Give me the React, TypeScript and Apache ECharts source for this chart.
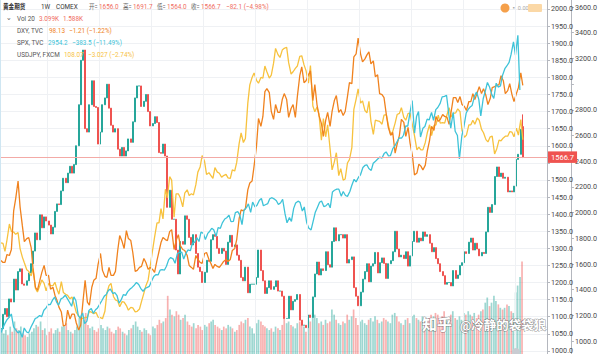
import React, { useEffect, useRef } from "react";
import * as echarts from "echarts";

// Semi-monthly samples, Feb 2010 .. Feb 2020 (242 points)
const START_YEAR = 2010;
const START_MONTH = 2;
const HALF_DAYS = ["08", "22"];

const goldClose = [
  // 2010 (Feb-Dec)
  1065, 1107, 1124, 1100, 1152, 1143, 1210, 1178, 1232, 1240, 1196, 1192, 1205, 1228, 1255, 1292, 1345, 1325, 1398, 1360, 1392, 1380,
  // 2011
  1368, 1342, 1362, 1408, 1430, 1428, 1468, 1505, 1492, 1520, 1540, 1520, 1545, 1600, 1720, 1850, 1880, 1650, 1640, 1720, 1790, 1715, 1712, 1605,
  // 2012
  1640, 1720, 1740, 1780, 1710, 1660, 1640, 1650, 1590, 1570, 1595, 1570, 1585, 1620, 1610, 1670, 1740, 1775, 1775, 1715, 1730, 1750, 1700, 1658,
  // 2013
  1665, 1685, 1668, 1580, 1578, 1605, 1570, 1420, 1470, 1385, 1385, 1295, 1225, 1320, 1312, 1395, 1385, 1332, 1310, 1340, 1285, 1245, 1232, 1200,
  // 2014
  1230, 1265, 1262, 1325, 1340, 1335, 1300, 1285, 1300, 1292, 1253, 1318, 1338, 1305, 1310, 1280, 1265, 1215, 1205, 1245, 1170, 1195, 1195, 1195,
  // 2015
  1215, 1295, 1235, 1205, 1168, 1185, 1205, 1180, 1188, 1205, 1175, 1175, 1160, 1095, 1095, 1160, 1120, 1145, 1150, 1165, 1090, 1075, 1075, 1068,
  // 2016
  1105, 1098, 1158, 1225, 1260, 1222, 1240, 1235, 1290, 1252, 1245, 1320, 1360, 1322, 1340, 1340, 1330, 1340, 1257, 1267, 1275, 1185, 1160, 1132,
  // 2017
  1172, 1210, 1232, 1255, 1202, 1248, 1255, 1288, 1228, 1258, 1272, 1256, 1212, 1255, 1264, 1290, 1350, 1298, 1275, 1280, 1270, 1290, 1248, 1278,
  // 2018
  1320, 1350, 1318, 1330, 1322, 1348, 1335, 1340, 1315, 1290, 1302, 1270, 1255, 1232, 1220, 1195, 1200, 1200, 1190, 1235, 1212, 1222, 1250, 1258,
  // 2019
  1290, 1285, 1318, 1330, 1295, 1315, 1298, 1278, 1288, 1285, 1348, 1420, 1405, 1428, 1510, 1538, 1510, 1520, 1505, 1508, 1465, 1468, 1465, 1482,
  // 2020 (Jan-Feb)
  1560, 1575, 1648, 1566.7,
];

// Header values of the last bar
const lastOpen = 1656.0;
const lastHigh = 1691.7;
const lastLow = 1564.0;
const lastClose = 1566.7;

const dxy = [
  80.5, 80.3, 80.3, 81.1, 81.0, 81.6, 85.5, 86.7, 88.5, 85.9, 84.0, 82.4, 82.7, 82.8, 81.8, 79.5, 77.8, 77.5, 78.5, 79.3, 80.0, 79.0,
  79.0, 77.6, 77.8, 77.0, 76.5, 75.8, 75.3, 73.9, 74.0, 75.5, 74.6, 75.1, 75.1, 74.2, 73.5, 74.0, 76.5, 78.5, 76.3, 76.0, 77.8, 78.5, 78.7, 80.1,
  81.2, 79.5, 78.9, 78.8, 79.8, 79.0, 79.0, 79.4, 81.5, 83.0, 82.4, 81.7, 83.5, 82.7, 82.5, 81.3, 79.4, 79.5, 79.8, 79.9, 80.7, 80.3, 79.6, 79.8,
  79.6, 79.3, 80.5, 81.4, 82.3, 82.8, 82.6, 82.5, 83.4, 83.6, 81.6, 82.5, 83.1, 82.0, 81.6, 81.5, 81.0, 80.0, 79.8, 79.6, 81.0, 80.6, 80.3, 80.2,
  81.2, 81.3, 80.6, 80.2, 79.7, 80.1, 79.9, 79.8, 80.1, 80.4, 80.6, 80.4, 80.6, 81.5, 81.7, 82.6, 84.7, 85.6, 85.5, 85.7, 87.6, 88.3, 88.5, 90.0,
  92.0, 94.8, 94.0, 95.0, 97.5, 97.8, 97.4, 95.5, 94.7, 96.2, 95.4, 95.4, 96.7, 97.3, 96.7, 94.9, 95.8, 96.2, 94.9, 97.0, 99.1, 100.0, 98.4, 98.6,
  99.2, 99.6, 96.6, 98.2, 96.2, 95.1, 94.3, 93.0, 94.6, 95.4, 94.0, 95.5, 96.6, 97.1, 95.4, 95.7, 95.1, 95.5, 97.0, 98.4, 98.3, 101.0, 101.3, 102.9,
  101.3, 100.5, 100.8, 101.2, 101.5, 100.3, 100.6, 99.0, 99.2, 97.3, 97.2, 96.9, 95.2, 93.9, 93.1, 93.4, 91.3, 92.2, 93.1, 94.7, 94.4, 93.0, 93.9, 92.3,
  91.0, 89.1, 89.3, 90.2, 90.0, 89.6, 90.1, 91.5, 92.6, 94.0, 93.6, 95.0, 94.5, 94.7, 95.2, 95.0, 94.9, 94.2, 95.6, 96.9, 96.9, 96.4, 97.0, 96.2,
  96.0, 95.6, 96.5, 96.5, 97.3, 96.7, 97.4, 98.0, 97.3, 97.8, 97.1, 96.2, 96.8, 97.9, 98.0, 98.1, 98.2, 99.1, 98.6, 97.3, 97.6, 98.3, 97.2, 96.5,
  97.3, 97.9, 99.4, 98.13,
];

const spx = [
  1066, 1105, 1138, 1166, 1187, 1211, 1110, 1090, 1064, 1076, 1030, 1102, 1071, 1064, 1110, 1140, 1176, 1183, 1199, 1190, 1240, 1257,
  1286, 1283, 1321, 1343, 1304, 1280, 1329, 1337, 1357, 1333, 1300, 1271, 1344, 1316, 1199, 1178, 1219, 1136, 1155, 1238, 1253, 1216, 1244, 1258,
  1290, 1316, 1350, 1362, 1395, 1404, 1370, 1378, 1353, 1295, 1325, 1362, 1356, 1385, 1405, 1418, 1437, 1456, 1440, 1411, 1388, 1409, 1418, 1426,
  1470, 1502, 1518, 1515, 1552, 1556, 1553, 1582, 1634, 1650, 1640, 1606, 1680, 1691, 1692, 1639, 1687, 1710, 1703, 1760, 1770, 1805, 1775, 1848,
  1838, 1790, 1838, 1855, 1878, 1866, 1815, 1883, 1878, 1920, 1950, 1960, 1980, 1930, 1932, 2000, 2007, 1982, 1906, 2018, 2039, 2068, 2002, 2082,
  2044, 2058, 2096, 2110, 2053, 2061, 2070, 2108, 2116, 2107, 2092, 2063, 2077, 2104, 1990, 1921, 1961, 1931, 2033, 2075, 2089, 2080, 2012, 2044,
  1922, 1880, 1865, 1930, 2000, 2036, 2080, 2091, 2047, 2052, 2072, 2037, 2161, 2174, 2183, 2183, 2128, 2164, 2133, 2126, 2164, 2213, 2259, 2239,
  2275, 2294, 2351, 2367, 2372, 2343, 2328, 2384, 2400, 2415, 2432, 2423, 2459, 2472, 2441, 2444, 2500, 2519, 2553, 2581, 2579, 2602, 2675, 2673,
  2786, 2872, 2619, 2747, 2786, 2588, 2656, 2670, 2727, 2721, 2780, 2718, 2801, 2818, 2850, 2901, 2904, 2913, 2767, 2658, 2781, 2633, 2600, 2417,
  2596, 2665, 2775, 2803, 2822, 2834, 2907, 2939, 2881, 2752, 2886, 2942, 3013, 2980, 2918, 2889, 3007, 2977, 2986, 3066, 3120, 3141, 3169, 3231,
  3329, 3226, 3380, 2954.2,
];

const usdjpy = [
  90.0, 89.9, 88.5, 90.5, 93.3, 92.0, 91.9, 91.5, 91.8, 89.0, 87.5, 86.5, 85.3, 85.0, 84.2, 85.5, 82.0, 81.4, 82.5, 83.5, 82.9, 81.6,
  82.9, 82.5, 82.5, 83.1, 81.9, 81.0, 83.2, 81.3, 81.0, 80.8, 80.2, 80.5, 79.1, 77.8, 77.2, 76.6, 76.8, 76.9, 77.0, 78.0, 77.8, 77.6, 77.8, 77.0,
  76.9, 76.7, 78.0, 81.2, 82.5, 82.9, 80.6, 80.0, 79.8, 78.8, 79.7, 79.6, 79.0, 78.2, 78.7, 78.6, 77.9, 78.0, 78.4, 79.7, 81.2, 82.5, 83.5, 85.9,
  88.7, 91.0, 93.5, 93.5, 96.0, 94.2, 99.4, 97.9, 101.6, 101.0, 94.5, 98.6, 98.6, 97.9, 96.3, 98.7, 99.3, 98.3, 98.6, 98.4, 100.2, 102.4, 103.3, 105.3,
  104.3, 102.0, 102.3, 101.8, 101.3, 103.2, 102.4, 102.2, 101.5, 101.8, 102.0, 101.4, 101.3, 102.8, 102.6, 104.1, 107.4, 109.3, 107.6, 108.3, 114.5, 117.7, 119.0, 119.8,
  118.5, 118.0, 119.0, 118.9, 121.0, 120.0, 118.9, 119.4, 121.5, 124.1, 123.0, 122.5, 123.8, 124.1, 124.3, 121.6, 119.6, 120.0, 120.6, 121.0, 122.7, 122.8, 121.2, 120.2,
  118.0, 121.1, 114.0, 113.0, 113.8, 112.6, 108.0, 111.8, 108.6, 110.7, 106.5, 102.8, 104.2, 105.8, 101.8, 103.0, 101.0, 101.2, 104.0, 104.6, 106.7, 113.4, 115.2, 117.0,
  114.5, 114.9, 113.2, 112.8, 114.8, 111.3, 109.0, 111.5, 111.4, 111.3, 110.8, 112.4, 112.5, 110.7, 109.0, 109.5, 111.0, 112.5, 112.7, 113.7, 112.0, 111.5, 112.7, 112.7,
  110.6, 108.8, 106.3, 106.8, 106.3, 106.3, 107.6, 109.3, 110.7, 108.8, 110.6, 110.7, 112.4, 111.0, 111.1, 111.0, 112.5, 113.7, 112.1, 112.7, 112.8, 113.5, 113.0, 109.7,
  108.5, 108.9, 110.7, 110.7, 111.5, 110.8, 111.9, 111.5, 109.9, 109.3, 108.1, 107.7, 108.6, 108.7, 105.6, 106.4, 108.0, 107.9, 108.4, 108.7, 108.7, 109.5, 109.4, 108.6,
  110.1, 108.9, 111.6, 108.07,
];

const goldVolume = [
  150, 120, 140, 110, 160, 130, 190, 150, 140, 160, 120, 110, 100, 120, 130, 150, 170, 160, 190, 140, 150, 110,
  130, 150, 120, 140, 150, 130, 160, 170, 180, 140, 130, 120, 140, 160, 210, 230, 200, 240, 170, 150, 160, 140, 130, 150,
  170, 150, 140, 160, 150, 130, 120, 140, 160, 150, 130, 120, 110, 140, 150, 170, 190, 160, 140, 130, 150, 140, 120, 110,
  160, 150, 170, 200, 180, 190, 210, 340, 260, 230, 220, 250, 230, 200, 210, 230, 190, 170, 160, 180, 150, 170, 160, 140,
  170, 160, 180, 190, 200, 170, 160, 150, 140, 160, 150, 170, 160, 150, 130, 140, 170, 190, 180, 200, 210, 160, 150, 120,
  180, 200, 190, 170, 160, 150, 140, 150, 130, 160, 150, 140, 170, 220, 180, 190, 170, 160, 150, 180, 190, 170, 160, 130,
  200, 190, 240, 230, 210, 180, 190, 170, 200, 180, 190, 260, 230, 200, 180, 170, 190, 180, 230, 200, 220, 260, 210, 170,
  190, 200, 180, 170, 200, 210, 190, 220, 200, 180, 190, 210, 200, 190, 180, 230, 240, 220, 190, 180, 170, 200, 210, 180,
  220, 230, 210, 200, 190, 220, 200, 180, 210, 230, 220, 240, 230, 210, 220, 250, 200, 190, 230, 250, 210, 200, 220, 200,
  240, 230, 250, 230, 220, 240, 210, 230, 250, 260, 300, 330, 280, 300, 340, 310, 290, 270, 260, 270, 290, 280, 250, 240,
  360, 400, 450, 540,
];

const yearLines = ["2011", "2012", "2013", "2014", "2015", "2016", "2017", "2018", "2019", "2020"];

const X_MIN = "2010-02-01";
const X_MAX = "2020-08-10";

const OFF = 10; // container is shifted 10px above the page top
const FONT = 'Roboto, "Noto Sans CJK SC", sans-serif';

const UP = "#26a69a";
const DOWN = "#ef5350";
const C_DXY = "#f0821e";
const C_SPX = "#3ec3d8";
const C_JPY = "#f7c23e";
const C_RED_TXT = "#ef6d62";

function buildDates(n: number): string[] {
  const out: string[] = [];
  let y = START_YEAR;
  let m = START_MONTH;
  while (out.length < n) {
    for (const d of HALF_DAYS) {
      if (out.length < n) out.push(`${y}-${String(m).padStart(2, "0")}-${d}`);
    }
    m++;
    if (m > 12) {
      m = 1;
      y++;
    }
  }
  return out;
}

function txt(text: string, x: number, y: number, fill: string, size = 7.5, weight = "normal", sx = 0.85) {
  return {
    type: "text",
    x,
    y: y + OFF,
    scaleX: sx,
    silent: true,
    z: 100,
    style: { text, fill, font: `${weight} ${size}px ${FONT}`, align: "left", verticalAlign: "middle" },
  };
}

export default function App() {
  const ref = useRef<HTMLDivElement>(null);

  useEffect(() => {
    if (!ref.current) return;
    const chart = echarts.init(ref.current, undefined, { renderer: "svg" });
    const n = goldClose.length;
    const dates = buildDates(n);
    const spxLast = spx[spx.length - 1];

    const candles: any[] = [];
    const vols: any[] = [];
    for (let i = 0; i < n; i++) {
      const isLast = i === n - 1;
      const c = isLast ? lastClose : goldClose[i];
      const o = isLast ? lastOpen : i === 0 ? goldClose[0] : goldClose[i - 1];
      const lo = isLast ? lastLow : Math.min(o, c);
      const hi = isLast ? lastHigh : Math.max(o, c);
      candles.push([dates[i], o, c, lo, hi]);
      vols.push({
        value: [dates[i], goldVolume[i]],
        itemStyle: { color: c >= o ? "rgba(38,166,154,0.45)" : "rgba(239,83,80,0.45)" },
      });
    }

    const xBase = { type: "time", min: X_MIN, max: X_MAX, show: false };
    const axisGrey = "#b4b7be";

    const option: any = {
      animation: false,
      textStyle: { fontFamily: FONT },
      grid: [
        { left: 0, right: 53, top: 1.9, bottom: 2 },
        { left: 0, right: 53, top: 4.15, bottom: 3.2 },
        { left: 0, right: 53, top: 210, bottom: 16 },
      ],
      xAxis: [
        { ...xBase, gridIndex: 0 },
        { ...xBase, gridIndex: 1 },
        { ...xBase, gridIndex: 2 },
      ],
      yAxis: [
        {
          gridIndex: 0,
          type: "value",
          position: "right",
          min: 950,
          max: 2050,
          interval: 50,
          axisLine: { show: true, lineStyle: { color: axisGrey } },
          axisTick: { show: true, length: 3, lineStyle: { color: axisGrey } },
          axisLabel: {
            fontSize: 7.2,
            color: "#4a4a4a",
            margin: 4,
            showMaxLabel: false,
            showMinLabel: false,
            // the price tag covers the label under it, as on the source chart
            formatter: (v: number) => (Math.abs(v - lastClose) < 25 ? "" : v.toFixed(1)),
          },
          splitLine: { show: true, lineStyle: { color: "#eff1f4", width: 1 } },
        },
        { gridIndex: 0, type: "value", show: false, min: 69.67, max: 107.54, splitLine: { show: false } },
        { gridIndex: 0, type: "value", show: false, min: 68.06, max: 134.0, splitLine: { show: false } },
        {
          gridIndex: 1,
          type: "value",
          position: "right",
          offset: 27,
          min: 800,
          max: 3700,
          interval: 200,
          axisLine: { show: true, lineStyle: { color: axisGrey } },
          axisTick: { show: true, length: 3, lineStyle: { color: axisGrey } },
          axisLabel: {
            fontSize: 7.2,
            color: "#4a4a4a",
            margin: 4,
            showMaxLabel: false,
            showMinLabel: false,
            formatter: (v: number) => (Math.abs(v - spxLast) < 80 ? "" : v.toFixed(1)),
          },
          splitLine: { show: false },
        },
        { gridIndex: 2, type: "value", show: false, min: 0, max: 900, splitLine: { show: false } },
      ],
      series: [
        {
          name: "yeargrid",
          type: "line",
          xAxisIndex: 0,
          yAxisIndex: 0,
          data: [],
          z: 0,
          silent: true,
          markLine: {
            silent: true,
            symbol: ["none", "none"],
            label: { show: false },
            lineStyle: { color: "#eff1f4", width: 1, type: "solid" },
            data: yearLines.map((y) => ({ xAxis: `${y}-01-01` })),
          },
        },
        {
          name: "Vol",
          type: "bar",
          xAxisIndex: 2,
          yAxisIndex: 4,
          data: vols,
          barWidth: 1.7,
          z: 1,
        },
        {
          name: "黄金期货",
          type: "candlestick",
          xAxisIndex: 0,
          yAxisIndex: 0,
          data: candles,
          barWidth: 1.5,
          z: 2,
          itemStyle: { color: UP, color0: DOWN, borderColor: UP, borderColor0: DOWN, borderWidth: 1 },
          markLine: {
            silent: true,
            symbol: ["none", "none"],
            lineStyle: { color: "#f3aaa6", width: 1, type: "solid" },
            label: {
              show: true,
              position: "end",
              distance: 1,
              formatter: () => lastClose.toFixed(1),
              color: "#fff",
              backgroundColor: "#ef5350",
              fontSize: 7.5,
              padding: [2, 3, 2, 3],
            },
            data: [{ yAxis: lastClose }],
          },
        },
        {
          name: "USDJPY",
          type: "line",
          xAxisIndex: 0,
          yAxisIndex: 2,
          data: dates.map((d, i) => [d, usdjpy[i]]),
          showSymbol: false,
          lineStyle: { color: C_JPY, width: 1.3 },
          itemStyle: { color: C_JPY },
          z: 3,
        },
        {
          name: "DXY",
          type: "line",
          xAxisIndex: 0,
          yAxisIndex: 1,
          data: dates.map((d, i) => [d, dxy[i]]),
          showSymbol: false,
          lineStyle: { color: C_DXY, width: 1.3 },
          itemStyle: { color: C_DXY },
          z: 3,
        },
        {
          name: "SPX",
          type: "line",
          xAxisIndex: 1,
          yAxisIndex: 3,
          data: dates.map((d, i) => [d, spx[i]]),
          showSymbol: false,
          lineStyle: { color: C_SPX, width: 1.3 },
          itemStyle: { color: C_SPX },
          z: 3,
          markLine: {
            silent: true,
            symbol: ["none", "none"],
            lineStyle: { opacity: 0 },
            label: {
              show: true,
              position: "end",
              distance: 29,
              formatter: () => spxLast.toFixed(1),
              color: "#1d2a33",
              backgroundColor: C_SPX,
              fontSize: 7.5,
              padding: [2, 2, 2, 2],
            },
            data: [{ yAxis: spxLast }],
          },
        },
      ],
      graphic: [
        // header line 1
        txt("黄金期货", 3, 7, "#333", 7, "bold", 0.8),
        txt("1W", 41, 7, "#333"),
        txt("COMEX", 56, 7, "#333"),
        txt("开=", 89, 7, "#666", 7, "normal", 0.8),
        txt("1656.0", 99, 7, C_RED_TXT),
        txt("高=", 123, 7, "#666", 7, "normal", 0.8),
        txt("1691.7", 133, 7, C_RED_TXT),
        txt("低=", 157, 7, "#666", 7, "normal", 0.8),
        txt("1564.0", 167, 7, C_RED_TXT),
        txt("收=", 191, 7, "#666", 7, "normal", 0.8),
        txt("1566.7", 201, 7, C_RED_TXT),
        txt("−82.1 (−4.98%)", 226, 7, C_RED_TXT),
        // line 2
        txt("⌄", 6, 18, "#666"),
        txt("Vol 20", 17, 19, "#555"),
        txt("3.099K", 39, 19, C_RED_TXT),
        txt("1.588K", 63, 19, C_RED_TXT),
        // overlays
        txt("DXY, TVC", 17, 31, "#555"),
        txt("98.13", 49, 31, C_DXY),
        txt("−1.21 (−1.22%)", 69, 31, C_DXY),
        txt("SPX, TVC", 17, 43, "#555"),
        txt("2954.2", 48, 43, C_SPX),
        txt("−383.5 (−11.49%)", 72, 43, C_SPX),
        txt("USDJPY, FXCM", 17, 55, "#555"),
        txt("108.07", 64, 55, C_JPY),
        txt("−3.027 (−2.74%)", 88, 55, C_JPY),
        // top-right widgets
        { type: "circle", silent: true, z: 100, shape: { cx: 505, cy: 8 + OFF, r: 4.5 }, style: { fill: "#f5a04a" } },
        txt("▪ 0.00", 511, 8, "#aaa", 5.5, "normal", 1),
        {
          type: "rect",
          silent: true,
          z: 100,
          shape: { x: 528, y: 4 + OFF, width: 14, height: 8, r: 1 },
          style: { fill: "#fbd8a6" },
        },
        // left frame
        {
          type: "line",
          silent: true,
          z: 100,
          shape: { x1: 0.5, y1: OFF, x2: 0.5, y2: 354 + OFF },
          style: { stroke: "#cfe6f2", lineWidth: 1 },
        },
        // watermark
        {
          type: "text",
          silent: true,
          z: 110,
          x: 422,
          y: 325 + OFF,
          style: {
            text: "知乎",
            font: `bold 15px ${FONT}`,
            fill: "#ffffff",
            stroke: "rgba(70,70,70,0.6)",
            lineWidth: 1,
            align: "left",
            verticalAlign: "middle",
          },
        },
        {
          type: "text",
          silent: true,
          z: 110,
          x: 460,
          y: 325 + OFF,
          style: {
            text: "@冷静的袋袋狼",
            font: `bold 12.5px ${FONT}`,
            fill: "#ffffff",
            stroke: "rgba(70,70,70,0.6)",
            lineWidth: 1,
            align: "left",
            verticalAlign: "middle",
          },
        },
        { type: "circle", silent: true, z: 100, shape: { cx: 516, cy: 352 + OFF, r: 4 }, style: { fill: "#c9ccd2" } },
      ],
    };

    chart.setOption(option);
    return () => chart.dispose();
  }, []);

  return (
    <div
      ref={ref}
      style={{ position: "absolute", left: 0, top: -OFF, width: 600, height: 380, background: "#fff" }}
    />
  );
}
